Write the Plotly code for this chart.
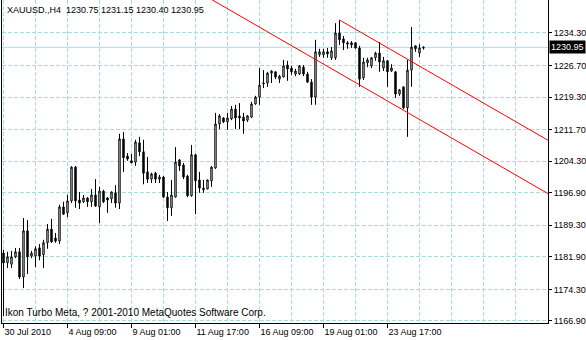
import plotly.graph_objects as go

# ---- data (H4 bars, index 0 = 30 Jul 2010) ----
bar_open = [1182.8, 1180.5, 1180.2, 1181.9, 1183.1, 1177.2, 1188.0, 1182.1, 1182.1, 1184.0,
            1182.4, 1185.2, 1188.4, 1186.3, 1185.6, 1193.6, 1192.2, 1195.0, 1202.9, 1195.2,
            1194.8, 1195.7, 1194.8, 1196.4, 1193.6, 1197.3, 1195.7, 1195.5, 1196.9, 1194.5,
            1209.5, 1205.5, 1204.4, 1204.1, 1208.6, 1206.5, 1201.8, 1200.1, 1201.5, 1200.1,
            1200.6, 1195.9, 1193.4, 1195.9, 1204.6, 1203.4, 1200.8, 1196.2, 1205.8, 1199.9,
            1197.6, 1197.8, 1199.7, 1202.7, 1213.0, 1214.4, 1213.5, 1214.2, 1216.5, 1214.9,
            1214.6, 1213.9, 1214.6, 1217.7, 1219.3, 1222.6, 1222.6, 1224.9, 1225.2, 1223.5,
            1224.0, 1226.8, 1226.1, 1224.7, 1224.7, 1226.3, 1224.7, 1222.8, 1219.3, 1229.2,
            1229.2, 1229.9, 1228.5, 1228.5, 1234.3, 1232.9, 1232.0, 1232.0, 1232.0, 1230.8,
            1223.8, 1227.3, 1226.6, 1228.5, 1229.6, 1226.1, 1227.8, 1225.4, 1225.2, 1220.0,
            1221.7, 1216.8, 1225.6, 1231.3, 1229.6, 1230.75]
bar_high = [1183.5, 1183.1, 1183.3, 1184.0, 1184.0, 1191.0, 1190.5, 1183.3, 1184.4, 1184.9,
            1185.9, 1189.6, 1190.8, 1187.5, 1194.1, 1194.8, 1196.4, 1203.1, 1203.2, 1197.1,
            1196.4, 1195.9, 1197.8, 1200.1, 1198.3, 1197.6, 1195.9, 1197.2, 1198.7, 1210.7,
            1211.1, 1206.2, 1206.0, 1209.3, 1210.0, 1209.3, 1205.3, 1201.6, 1201.8, 1201.1,
            1200.8, 1197.1, 1199.9, 1207.6, 1204.8, 1203.9, 1201.1, 1208.1, 1206.0, 1201.8,
            1199.9, 1200.0, 1203.2, 1215.6, 1215.3, 1214.6, 1215.6, 1217.2, 1217.5, 1217.9,
            1215.6, 1215.1, 1218.2, 1219.6, 1226.1, 1225.6, 1225.2, 1225.6, 1225.3, 1224.5,
            1228.0, 1227.8, 1226.6, 1225.9, 1226.8, 1226.8, 1225.2, 1223.5, 1232.7, 1230.6,
            1230.6, 1230.8, 1231.0, 1236.6, 1237.3, 1233.6, 1232.4, 1232.4, 1232.2, 1231.3,
            1228.5, 1228.5, 1228.7, 1229.9, 1232.2, 1228.7, 1228.0, 1227.0, 1225.4, 1221.2,
            1221.7, 1228.0, 1235.7, 1231.3, 1231.7, 1231.15]
bar_low = [1168.0, 1179.3, 1179.3, 1181.6, 1176.7, 1174.6, 1177.9, 1181.6, 1179.5, 1181.1,
           1179.3, 1183.8, 1185.2, 1185.2, 1184.9, 1191.7, 1191.2, 1194.5, 1193.4, 1193.1,
           1194.5, 1193.6, 1193.6, 1193.6, 1189.8, 1194.5, 1192.2, 1194.5, 1193.4, 1193.1,
           1201.8, 1204.4, 1203.9, 1203.2, 1205.5, 1198.9, 1199.2, 1199.2, 1199.2, 1199.2,
           1195.7, 1190.3, 1191.5, 1195.8, 1202.0, 1200.1, 1195.9, 1196.0, 1191.9, 1196.9,
           1196.9, 1197.7, 1198.3, 1202.5, 1211.8, 1213.2, 1211.6, 1213.9, 1211.8, 1211.8,
           1210.7, 1213.5, 1214.4, 1217.5, 1217.5, 1221.4, 1221.7, 1222.6, 1223.5, 1222.6,
           1223.9, 1223.1, 1224.5, 1224.2, 1224.5, 1224.2, 1222.6, 1217.5, 1217.5, 1228.7,
           1228.5, 1228.5, 1228.0, 1228.0, 1231.5, 1230.3, 1230.6, 1230.8, 1230.6, 1221.7,
           1223.3, 1226.3, 1226.1, 1227.8, 1225.2, 1225.4, 1221.7, 1225.2, 1219.1, 1219.6,
           1216.5, 1210.0, 1221.7, 1229.9, 1228.7, 1230.40]
bar_close = [1180.5, 1181.9, 1181.9, 1183.1, 1177.2, 1188.0, 1181.9, 1182.8, 1183.8, 1182.1,
             1185.2, 1188.4, 1185.4, 1185.6, 1193.6, 1191.9, 1195.0, 1202.9, 1195.0, 1194.5,
             1195.7, 1194.8, 1196.4, 1193.8, 1197.3, 1194.8, 1195.2, 1197.1, 1194.5, 1209.5,
             1205.1, 1204.8, 1203.9, 1208.8, 1206.5, 1201.5, 1200.1, 1201.3, 1200.1, 1200.6,
             1195.9, 1193.4, 1196.4, 1204.1, 1203.2, 1200.6, 1196.2, 1205.8, 1199.7, 1198.0,
             1198.0, 1199.9, 1202.9, 1213.0, 1214.9, 1213.5, 1214.4, 1216.5, 1214.4, 1214.4,
             1213.7, 1214.9, 1217.7, 1219.3, 1222.1, 1222.4, 1224.9, 1225.4, 1224.0, 1224.2,
             1226.6, 1225.9, 1225.2, 1225.4, 1226.6, 1224.7, 1222.8, 1219.3, 1229.9, 1229.9,
             1229.9, 1229.4, 1230.1, 1234.3, 1232.7, 1232.0, 1231.7, 1231.5, 1230.8, 1223.5,
             1227.5, 1228.0, 1228.5, 1229.6, 1227.5, 1227.8, 1225.2, 1226.1, 1220.0, 1221.0,
             1216.8, 1225.6, 1231.0, 1230.6, 1230.8, 1230.95]
bar_index = list(range(len(bar_open)))

# time axis labels (bar index -> label)
time_tick_bars = [0, 16, 32, 48, 64, 80, 96]
time_tick_labels = ["30 Jul 2010", "4 Aug 09:00", "9 Aug 01:00", "11 Aug 17:00",
                    "16 Aug 09:00", "19 Aug 01:00", "23 Aug 17:00"]

# price axis labels
price_ticks = [1234.30, 1226.70, 1219.30, 1211.70, 1204.30, 1196.90, 1189.30, 1181.90, 1174.30, 1166.90]
price_labels = ["1234.30", "1226.70", "1219.30", "1211.70", "1204.30", "1196.90",
                "1189.30", "1181.90", "1174.30", "1166.90"]

# equidistant channel anchor points (bar index, price)
channel_upper_x = [84, 137]
channel_upper_y = [1237.34, 1208.72]
channel_lower_x = [50, 137]
channel_lower_y = [1243.22, 1196.24]

bid_price = 1230.95
symbol_header = "XAUUSD.,H4  1230.75 1231.15 1230.40 1230.95"
watermark = "Ikon Turbo Meta, ? 2001-2010 MetaQuotes Software Corp."

GRID = "#a6dede"
FONT = "Liberation Sans"

fig = go.Figure()

fig.add_trace(go.Candlestick(
    x=bar_index, open=bar_open, high=bar_high, low=bar_low, close=bar_close,
    increasing=dict(line=dict(color="black", width=1), fillcolor="white"),
    decreasing=dict(line=dict(color="black", width=1), fillcolor="black"),
    whiskerwidth=0, hoverinfo="skip", showlegend=False,
))

fig.add_trace(go.Scatter(x=channel_upper_x, y=channel_upper_y, mode="lines",
                         line=dict(color="#ff0000", width=1), hoverinfo="skip", showlegend=False))
fig.add_trace(go.Scatter(x=channel_lower_x, y=channel_lower_y, mode="lines",
                         line=dict(color="#ff0000", width=1), hoverinfo="skip", showlegend=False))

# bid line
fig.add_shape(type="line", xref="paper", x0=0, x1=1, yref="y", y0=bid_price, y1=bid_price,
              line=dict(color=GRID, width=1), layer="below")

fig.update_layout(
    width=586, height=340,
    margin=dict(l=2, r=38, t=0, b=17, pad=0),
    paper_bgcolor="white", plot_bgcolor="white",
    font=dict(family=FONT, size=9, color="black"),
    showlegend=False,
    boxgap=0.5,
    xaxis=dict(
        range=[-0.375, 136.125], rangeslider=dict(visible=False),
        tickmode="array", tickvals=time_tick_bars, ticktext=time_tick_labels,
        ticklabelposition="outside right",
        ticks="outside", ticklen=4, tickcolor="black", tickwidth=1,
        showgrid=True, gridcolor=GRID, griddash="4px,2px", gridwidth=1,
        minor=dict(dtick=8, tick0=0, showgrid=True, gridcolor=GRID, griddash="4px,2px", ticklen=0),
        showline=True, linecolor="black", linewidth=1, zeroline=False,
        tickfont=dict(family=FONT, size=9, color="black"),
    ),
    yaxis=dict(
        side="right", range=[1166.43, 1242.02],
        tickmode="array", tickvals=price_ticks, ticktext=price_labels,
        ticks="outside", ticklen=3, tickcolor="black", tickwidth=1,
        showgrid=True, gridcolor=GRID, griddash="4px,2px", gridwidth=1,
        showline=True, mirror=True, linecolor="black", linewidth=1, zeroline=False,
        tickfont=dict(family=FONT, size=9, color="black"),
    ),
    annotations=[
        dict(text=symbol_header, xref="paper", yref="paper", x=0, y=1, xanchor="left", yanchor="top",
             xshift=3, yshift=-3, showarrow=False, font=dict(family=FONT, size=9, color="black")),
        dict(text=watermark, xref="paper", yref="paper", x=0, y=0, xanchor="left", yanchor="bottom",
             xshift=1, yshift=3, showarrow=False, font=dict(family=FONT, size=10, color="black")),
        dict(text=str(bid_price), xref="paper", yref="y", x=1, y=bid_price, xanchor="left", yanchor="middle",
             xshift=1, showarrow=False, bgcolor="black", borderpad=1,
             font=dict(family=FONT, size=9, color="white")),
    ],
)

fig.write_html("out.html")
